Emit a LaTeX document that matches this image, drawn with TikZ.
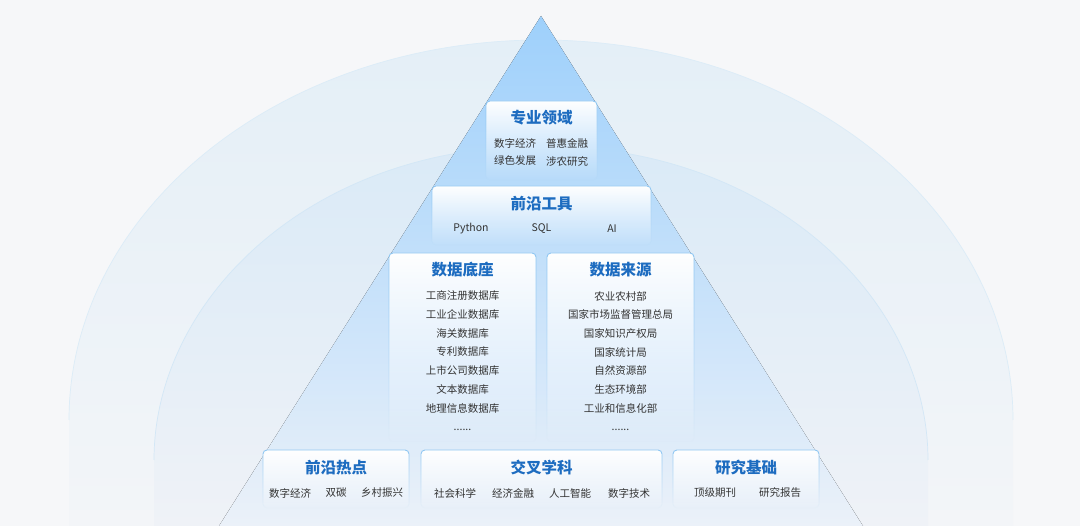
\documentclass[tikz,border=0pt]{standalone}
\usepackage{fontspec}
\setmainfont{Noto Sans CJK SC}
\usetikzlibrary{positioning,fadings}
\definecolor{bgGray}{HTML}{F6F7F9}
\definecolor{outerTop}{HTML}{E4EFF7}
\definecolor{outerBottom}{HTML}{F3F5F8}
\definecolor{outerLine}{HTML}{DCECF7}
\definecolor{innerTop}{HTML}{DAEAF7}
\definecolor{innerBottom}{HTML}{EFF2F7}
\definecolor{innerLine}{HTML}{D3E7F6}
\definecolor{triTop}{HTML}{9ED0FB}
\definecolor{triMid}{HTML}{C3E0FA}
\definecolor{triBottom}{HTML}{EBF1F9}
\definecolor{boxLine}{HTML}{8EC6F2}
\definecolor{titleBlue}{HTML}{1D6CC0}
\definecolor{itemGray}{HTML}{333333}
\tikzfading[name=boxfade, top color=transparent!0, middle color=transparent!20, bottom color=transparent!100]

\begin{document}
\begin{tikzpicture}[x=1pt, y=-1pt,
    layerbox/.style={draw=boxLine, line width=0.9pt, fill=white, rounded corners=4pt, path fading=boxfade, inner sep=0pt},
    archline/.style={line width=0.7pt},
    layertitle/.style={text=titleBlue, font=\bfseries\fontsize{15.5}{18}\selectfont, inner sep=0pt},
    layeritem/.style={text=itemGray, font=\fontsize{10.5}{12}\selectfont, inner sep=0pt}]
% Background
\useasboundingbox (0,0) rectangle (1080,526);
\fill[bgGray] (0,0) rectangle (1080,526);

% Two arches behind the pyramid
\shade[top color=outerTop, bottom color=outerBottom]
  (69,526) -- (69,420) .. controls (69,210) and (281,40) .. (541,40)
  .. controls (801,40) and (1013,210) .. (1013,420) -- (1013,526) -- cycle;
\draw[archline, outerLine] (69,420) .. controls (69,210) and (281,40) .. (541,40)
  .. controls (801,40) and (1013,210) .. (1013,420);
\shade[top color=innerTop, bottom color=innerBottom]
  (154,526) -- (154,460) .. controls (154,300) and (310,146) .. (541,146)
  .. controls (772,146) and (928,300) .. (928,460) -- (928,526) -- cycle;
\draw[archline, innerLine] (154,460) .. controls (154,300) and (310,146) .. (541,146)
  .. controls (772,146) and (928,300) .. (928,460);

% The pyramid
\fill[top color=triTop, middle color=triMid, bottom color=triBottom]
  (541,16) -- (863,526) -- (219,526) -- cycle;

% Boxes, top to bottom
\node[layerbox, minimum width=111pt, minimum height=79pt] (domainBox) at (541.5,140.5) {};
\node[layerbox, minimum width=219pt, minimum height=59pt] (toolBox) at (541.5,215.5) {};
\node[layerbox, minimum width=147pt, minimum height=189pt] (baseBox) at (462.5,347.5) {};
\node[layerbox, minimum width=147pt, minimum height=189pt] (sourceBox) at (620.5,347.5) {};
\node[layerbox, minimum width=146pt, minimum height=58pt] (hotBox) at (336,479) {};
\node[layerbox, minimum width=241pt, minimum height=58pt] (crossBox) at (541.5,479) {};
\node[layerbox, minimum width=146pt, minimum height=58pt] (footBox) at (746,479) {};

% Titles
\node[layertitle] (domainTitle) at (541.5,118) {专业领域};
\node[layertitle] (toolTitle) at (541.5,204) {前沿工具};
\node[layertitle] (baseTitle) at (462.5,270) {数据底座};
\node[layertitle] (sourceTitle) at (620.5,270) {数据来源};
\node[layertitle] (hotTitle) at (336,468) {前沿热点};
\node[layertitle] (crossTitle) at (541.5,468) {交叉学科};
\node[layertitle] (footTitle) at (746,468) {研究基础};

% Items
\foreach \t/\x/\y [count=\i] in {数字经济/515/143, 普惠金融/567/143, 绿色发展/515/161, 涉农研究/567/161}
  \node[layeritem] (domainItem\i) at (\x,\y) {\t};
\foreach \t/\x [count=\i] in {Python/471, SQL/541.5, AI/612}
  \node[layeritem] (toolItem\i) at (\x,229) {\t};
\foreach \t [count=\i] in {工商注册数据库, 工业企业数据库, 海关数据库, 专利数据库, 上市公司数据库, 文本数据库, 地理信息数据库}
  \node[layeritem] (baseItem\i) at (462.5,277.33+18.67*\i) {\t};
\node[layeritem] (baseMore) at (462.5,429.5) {......};
\foreach \t [count=\i] in {农业农村部, 国家市场监督管理总局, 国家知识产权局, 国家统计局, 自然资源部, 生态环境部, 工业和信息化部}
  \node[layeritem] (sourceItem\i) at (620.5,277.33+18.67*\i) {\t};
\node[layeritem] (sourceMore) at (620.5,429.5) {......};
\foreach \t/\x [count=\i] in {数字经济/290, 双碳/336, 乡村振兴/382}
  \node[layeritem] (hotItem\i) at (\x,493) {\t};
\foreach \t/\x [count=\i] in {社会科学/455, 经济金融/513, 人工智能/570, 数字技术/629}
  \node[layeritem] (crossItem\i) at (\x,493) {\t};
\foreach \t/\x [count=\i] in {顶级期刊/715, 研究报告/780}
  \node[layeritem] (footItem\i) at (\x,493) {\t};
\end{tikzpicture}
\end{document}
